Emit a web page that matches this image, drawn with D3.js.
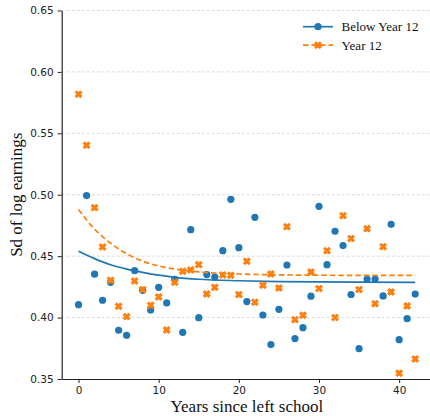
<!DOCTYPE html>
<html>
<head>
<meta charset="utf-8">
<script src="https://cdn.jsdelivr.net/npm/d3@7"></script>
<style>
  body { margin: 0; background: #fff; }
  svg { display: block; }
</style>
</head>
<body>
<svg id="chart" width="430" height="416"></svg>
<script>
// years since left school, 0..42
var years = d3.range(0, 43);

var belowYear12 = [0.4105, 0.4993, 0.4353, 0.4141, 0.4287, 0.3897, 0.3856, 0.4382, 0.4222, 0.4062,
  0.4246, 0.4119, 0.4312, 0.3880, 0.4716, 0.3999, 0.4350, 0.4330, 0.4545, 0.4963,
  0.4569, 0.4130, 0.4816, 0.4021, 0.3780, 0.4067, 0.4428, 0.3829, 0.3918, 0.4174,
  0.4906, 0.4431, 0.4703, 0.4586, 0.4188, 0.3747, 0.4314, 0.4314, 0.4176, 0.4759,
  0.3820, 0.3991, 0.4191];

var year12 = [0.5818, 0.5403, 0.4895, 0.4575, 0.4304, 0.4092, 0.4008, 0.4298, 0.4228, 0.4100,
  0.4168, 0.3899, 0.4287, 0.4377, 0.4388, 0.4431, 0.4192, 0.4246, 0.4347, 0.4344,
  0.4187, 0.4458, 0.4125, 0.4263, 0.4355, 0.4241, 0.4740, 0.3983, 0.4019, 0.4371,
  0.4236, 0.4545, 0.4000, 0.4830, 0.4643, 0.4228, 0.4724, 0.4113, 0.4577, 0.4209,
  0.3547, 0.4095, 0.3663];

// fitted curves
var fitYears = [0, 2, 4, 6, 8, 10, 12, 15, 20, 25, 30, 35, 42];
var belowFit = [0.4540, 0.4480, 0.4430, 0.4395, 0.4368, 0.4345, 0.4328, 0.4312, 0.4300, 0.4293, 0.4290, 0.4288, 0.4287];
var year12Fit = [0.4880, 0.4720, 0.4605, 0.4520, 0.4460, 0.4420, 0.4395, 0.4372, 0.4355, 0.4348, 0.4345, 0.4344, 0.4343];

var yTicks = [0.35, 0.40, 0.45, 0.50, 0.55, 0.60, 0.65];
var xTicks = [0, 10, 20, 30, 40];

var blue = '#1f77b4', orange = '#ff7f0e';

var svg = d3.select('#chart');
var plotLeft = 61.7, plotRight = 432, plotTop = 10.5, plotBottom = 379;

var x = d3.scaleLinear().domain([-2.1, 44.1]).range([plotLeft, plotRight]);
var y = d3.scaleLinear().domain([0.35, 0.65]).range([plotBottom, plotTop]);

// grid
svg.append('g').selectAll('line')
  .data(yTicks.slice(1))
  .enter().append('line')
  .attr('x1', plotLeft).attr('x2', 430)
  .attr('y1', function(d) { return y(d); })
  .attr('y2', function(d) { return y(d); })
  .attr('stroke', '#dcdcdc')
  .attr('stroke-width', 1)
  .attr('stroke-dasharray', '3,2');

var tickFont = '"DejaVu Sans", sans-serif';

var xAxis = svg.append('g')
  .attr('transform', 'translate(0,' + plotBottom + ')')
  .call(d3.axisBottom(x).tickValues(xTicks).tickSize(4).tickPadding(4).tickSizeOuter(0));
var yAxis = svg.append('g')
  .attr('transform', 'translate(' + plotLeft + ',0)')
  .call(d3.axisLeft(y).tickValues(yTicks).tickFormat(d3.format('.2f')).tickSize(4).tickPadding(4).tickSizeOuter(0));

[xAxis, yAxis].forEach(function(g) {
  g.selectAll('text').attr('font-family', tickFont).attr('font-size', 10.5).attr('fill', '#222');
  g.selectAll('line').attr('stroke', '#222').attr('stroke-width', 1);
  g.select('.domain').attr('stroke', '#222').attr('stroke-width', 1.2);
});

var line = d3.line()
  .x(function(d) { return x(d[0]); })
  .y(function(d) { return y(d[1]); })
  .curve(d3.curveMonotoneX);

// filled "X" marker like matplotlib's
var fatX = {
  draw: function(ctx, size) {
    var k = Math.sqrt(size) / 4;
    var pts = [[-1, -2], [0, -1], [1, -2], [2, -1], [1, 0], [2, 1],
               [1, 2], [0, 1], [-1, 2], [-2, 1], [-1, 0], [-2, -1]];
    ctx.moveTo(pts[0][0] * k, pts[0][1] * k);
    for (var i = 1; i < pts.length; i++) ctx.lineTo(pts[i][0] * k, pts[i][1] * k);
    ctx.closePath();
  }
};
var xShape = d3.symbol().type(fatX).size(7 * 7);

// Below Year 12 points + fit
svg.append('g').selectAll('circle')
  .data(years)
  .enter().append('circle')
  .attr('cx', function(d) { return x(d); })
  .attr('cy', function(d, i) { return y(belowYear12[i]); })
  .attr('r', 3.6)
  .attr('fill', blue);

svg.append('path')
  .datum(d3.zip(fitYears, belowFit))
  .attr('d', line)
  .attr('fill', 'none')
  .attr('stroke', blue)
  .attr('stroke-width', 1.7);

// Year 12 points + fit
svg.append('g').selectAll('path')
  .data(years)
  .enter().append('path')
  .attr('d', xShape)
  .attr('transform', function(d, i) {
    return 'translate(' + x(d) + ',' + y(year12[i]) + ')';
  })
  .attr('fill', orange)
  .attr('stroke', orange)
  .attr('stroke-width', 1)
  .attr('stroke-linejoin', 'round');

svg.append('path')
  .datum(d3.zip(fitYears, year12Fit))
  .attr('d', line)
  .attr('fill', 'none')
  .attr('stroke', orange)
  .attr('stroke-width', 1.7)
  .attr('stroke-dasharray', '5.5,3');

// axis labels
var serif = '"Liberation Serif", "Times New Roman", serif';
svg.append('text')
  .attr('x', (plotLeft + 430) / 2 + 1)
  .attr('y', 412)
  .attr('text-anchor', 'middle')
  .attr('font-family', serif)
  .attr('font-size', 17)
  .attr('fill', '#111')
  .text('Years since left school');

svg.append('text')
  .attr('transform', 'translate(22,' + ((plotTop + plotBottom) / 2) + ') rotate(-90)')
  .attr('text-anchor', 'middle')
  .attr('font-family', serif)
  .attr('font-size', 17)
  .attr('fill', '#111')
  .text('Sd of log earnings');

// legend
var legend = svg.append('g');
var rows = [
  { name: 'Below Year 12', color: blue, dash: null, marker: 'circle' },
  { name: 'Year 12', color: orange, dash: '5.5,3', marker: 'x' }
];
rows.forEach(function(r, i) {
  var ly = 26.7 + i * 18.5;
  legend.append('line')
    .attr('x1', 303).attr('x2', 333)
    .attr('y1', ly).attr('y2', ly)
    .attr('stroke', r.color)
    .attr('stroke-width', 1.7)
    .attr('stroke-dasharray', r.dash);
  if (r.marker === 'circle') {
    legend.append('circle').attr('cx', 318).attr('cy', ly).attr('r', 3.6).attr('fill', r.color);
  } else {
    legend.append('path').attr('d', xShape)
      .attr('transform', 'translate(318,' + ly + ')')
      .attr('fill', r.color)
      .attr('stroke', r.color)
      .attr('stroke-width', 1)
      .attr('stroke-linejoin', 'round');
  }
  legend.append('text')
    .attr('x', 341.5)
    .attr('y', ly + 4.5)
    .attr('font-family', serif)
    .attr('font-size', 13)
    .attr('fill', '#111')
    .text(r.name);
});
</script>
</body>
</html>
